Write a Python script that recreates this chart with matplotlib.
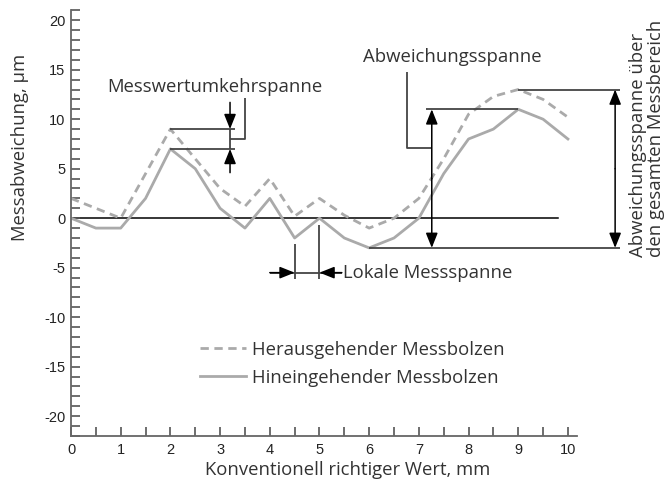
import matplotlib
matplotlib.use("Agg")
import matplotlib.pyplot as plt
from matplotlib.ticker import MultipleLocator
import numpy as np

# ---- data ----
x_values = [0, 0.5, 1, 1.5, 2, 2.5, 3, 3.5, 4, 4.5, 5, 5.5, 6, 6.5, 7, 7.5, 8, 8.5, 9, 9.5, 10]
heraus = [2, 1, 0, 4.5, 9, 6, 3, 1.2, 4, 0.2, 2, 0.3, -1, 0, 2, 6, 10.5, 12.3, 13, 12, 10.2]
hinein = [0, -1, -1, 2, 7, 5, 1, -1, 2, -2, 0, -2, -3, -2, 0, 4.5, 8, 9, 11, 10, 8]
series_labels = ["Herausgehender Messbolzen", "Hineingehender Messbolzen"]
x_label = "Konventionell richtiger Wert, mm"
y_label = "Messabweichung, µm"
x_ticks = list(range(0, 11))
y_ticks = [-20, -15, -10, -5, 0, 5, 10, 15, 20]

plt.rcParams['axes.unicode_minus'] = False
TXT = "#333333"
FONT = ["Open Sans", "DejaVu Sans"]
TFONT = ["Liberation Sans", "DejaVu Sans"]
FS = 13.3

fig = plt.figure(figsize=(6.7, 4.84), dpi=100)
ax = fig.add_axes([0.106, 0.0992, 0.755, 0.8795])
ax.set_xlim(0, 10.18)
ax.set_ylim(-22, 21)

grey = "#aaaaaa"
l1, = ax.plot(x_values, heraus, color=grey, lw=2, dashes=(3.0, 2.0), label=series_labels[0])
l2, = ax.plot(x_values, hinein, color=grey, lw=2, label=series_labels[1])

# zero reference line
ax.plot([0, 9.8], [0, 0], color="black", lw=1.1, zorder=1)

for s in ["top", "right"]:
    ax.spines[s].set_visible(False)
for s in ["left", "bottom"]:
    ax.spines[s].set_color("#666666")
    ax.spines[s].set_linewidth(1.3)

ax.set_xticks(x_ticks)
ax.xaxis.set_minor_locator(MultipleLocator(0.5))
ax.set_yticks(y_ticks)
ax.yaxis.set_minor_locator(MultipleLocator(1))
ax.tick_params(which="both", direction="in", length=6.5, width=1.2, color="#555555",
               labelsize=10.5, labelcolor="#222222")
ax.tick_params(axis="y", pad=4)
ax.tick_params(axis="x", pad=5)
for lab in ax.get_xticklabels() + ax.get_yticklabels():
    lab.set_family(TFONT)

ax.set_xlabel(x_label, fontsize=FS, color=TXT, family=FONT)
ax.xaxis.set_label_coords(0.547, -0.058)
ax.set_ylabel(y_label, fontsize=FS, color=TXT, family=FONT)
ax.yaxis.set_label_coords(-0.083, 0.679)

LC = "#444444"
LW = 1.3
def seg(xs, ys):
    ax.plot(xs, ys, color=LC, lw=LW, clip_on=False, solid_capstyle="butt")

def arrow(x0, y0, x1, y1, style="-|>"):
    ax.annotate("", xy=(x1, y1), xytext=(x0, y0),
                arrowprops=dict(arrowstyle=style + ",head_length=0.9,head_width=0.36",
                                color="black", lw=1.1, shrinkA=0, shrinkB=0,
                                mutation_scale=10),
                annotation_clip=False)

# Messwertumkehrspanne
seg([2, 3.3], [9, 9])
seg([2, 3.3], [7, 7])
arrow(3.2, 11.7, 3.2, 9)
arrow(3.2, 4.6, 3.2, 7)
seg([3.2, 3.2], [9, 7])
seg([3.2, 3.5, 3.5], [8.05, 8.05, 12.1])
ax.text(2.9, 13.3, "Messwertumkehrspanne", ha="center", va="center",
        fontsize=FS, color=TXT, family=FONT)

# Lokale Messspanne
seg([4.5, 4.5], [-2.6, -6.1])
seg([5.0, 5.0], [-0.7, -6.1])
seg([4.0, 5.45], [-5.5, -5.5])
arrow(4.0, -5.5, 4.5, -5.5)
arrow(5.45, -5.5, 5.0, -5.5)
ax.text(5.47, -5.5, "Lokale Messspanne", ha="left", va="center",
        fontsize=FS, color=TXT, family=FONT)

# Abweichungsspanne
seg([7.15, 9.0], [11, 11])
seg([6.0, 11.05], [-3, -3])
arrow(7.26, 4, 7.26, 11)
arrow(7.26, 4, 7.26, -3)
seg([7.26, 6.77, 6.77], [7.1, 7.1, 14.8])
ax.text(7.68, 16.3, "Abweichungsspanne", ha="center", va="center",
        fontsize=FS, color=TXT, family=FONT)

# Abweichungsspanne über den gesamten Messbereich
seg([9.0, 11.05], [13, 13])
arrow(10.95, 5, 10.95, 13)
arrow(10.95, 5, 10.95, -3)
ax.text(11.6, -3.9, "Abweichungsspanne über\nden gesamten Messbereich", rotation=90,
        ha="center", va="bottom", multialignment="left", linespacing=1.0,
        fontsize=FS, color=TXT, family=FONT)

leg = ax.legend(handles=[l1, l2], loc="upper left", bbox_to_anchor=(0.255, 0.224),
                frameon=False, borderpad=0, borderaxespad=0, handlelength=2.5,
                handletextpad=0.3, labelspacing=0.55,
                prop=dict(family=FONT, size=FS))
for t in leg.get_texts():
    t.set_color(TXT)

fig.savefig("out.png", dpi=100)
